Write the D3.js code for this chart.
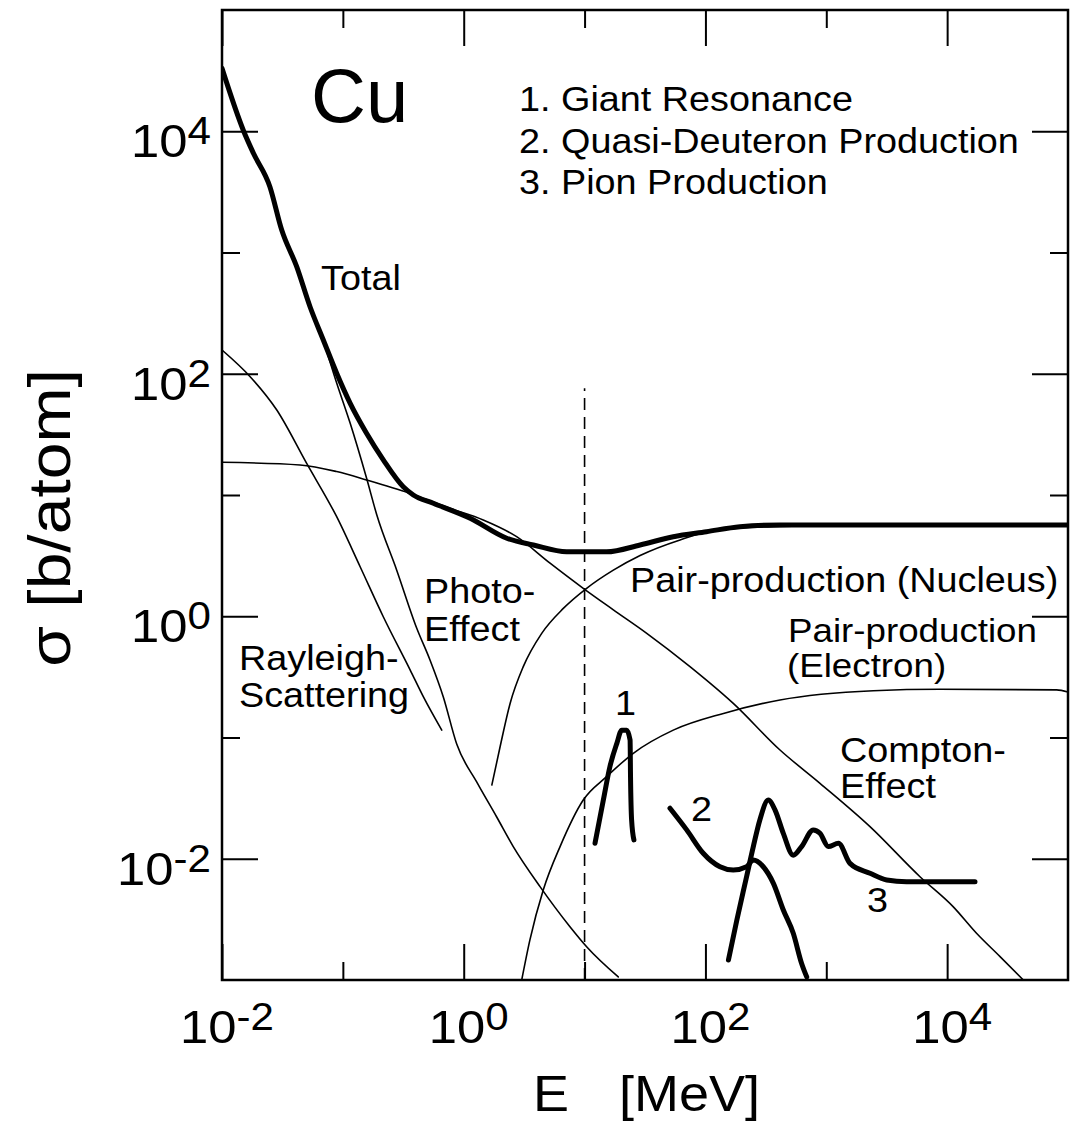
<!DOCTYPE html>
<html>
<head>
<meta charset="utf-8">
<script src="https://cdn.jsdelivr.net/npm/d3@7"></script>
<style>
  body { margin: 0; background: #fff; }
  svg { display: block; font-family: "Liberation Sans", Arial, sans-serif; }
</style>
</head>
<body>
<svg width="1086" height="1124"></svg>
<script>
// values: [E in MeV, sigma in b/atom]
const total = [[0.01, 33000], [0.015, 10200], [0.0182, 6580], [0.0249, 3490], [0.0312, 1530],
  [0.0415, 764], [0.0535, 357], [0.0689, 190], [0.0889, 101], [0.115, 57], [0.157, 32.3],
  [0.216, 19.5], [0.316, 11.7], [0.383, 10], [0.56, 8.55], [1.13, 6.43], [2.27, 4.4],
  [3.77, 3.87], [7.11, 3.4], [15.2, 3.4], [28.8, 3.87], [54.2, 4.53], [102, 4.98],
  [193, 5.48], [414, 5.66], [1e5, 5.66]];
const photo = [[0.0689, 190], [0.0889, 83.9], [0.115, 39], [0.157, 13.8], [0.191, 6.84],
  [0.279, 2.4], [0.408, 0.8], [0.526, 0.436], [0.678, 0.216], [0.875, 0.0883], [1.28, 0.043],
  [1.87, 0.0222], [2.57, 0.0126], [4.28, 0.00589], [7.57, 0.00275], [10.4, 0.00188], [19, 0.00106]];
const rayleigh = [[0.01, 157], [0.0171, 94.6], [0.0284, 50.2], [0.0502, 18.2], [0.0889, 6.62],
  [0.139, 2.56], [0.216, 0.991], [0.36, 0.361], [0.463, 0.217], [0.658, 0.115]];
const compton = [[0.01, 18.6], [0.0442, 17.7], [0.0889, 15.6], [0.157, 13.3], [0.36, 10.3],
  [0.769, 7.76], [1.45, 6.22], [2.74, 4.53], [5.18, 2.74], [9.75, 1.7], [17.3, 1.13],
  [32.7, 0.723], [74.5, 0.384], [170, 0.191], [414, 0.0789], [887, 0.0419], [2300, 0.0184],
  [5960, 0.00711], [11200, 0.00403], [17500, 0.00243], [27400, 0.00156], [42700, 0.001]];
const pairNucleus = [[1.71, 0.0406], [2.0, 0.0839], [2.42, 0.191], [3.11, 0.384], [4.42, 0.723],
  [6.67, 1.16], [10.4, 1.7], [17.3, 2.4], [28.8, 3.17], [61.7, 4.26], [124, 5.14], [365, 5.48],
  [1570, 5.62], [1e5, 5.62]];
const pairElectron = [[3.02, 0.001], [3.53, 0.00214], [4.55, 0.00552], [6.27, 0.0126],
  [9.75, 0.0305], [15.2, 0.0475], [25.3, 0.0741], [54.2, 0.115], [141, 0.158], [414, 0.204],
  [2450, 0.243], [8730, 0.25], [80500, 0.247], [1e5, 0.237]];
const giantResonance = [[12.2, 0.0134], [14.3, 0.0305], [16.2, 0.0574], [18.5, 0.0895],
  [20.3, 0.115], [22.3, 0.115], [23.8, 0.0953], [24.0, 0.0475], [24.5, 0.0209], [25.6, 0.0143]];
const quasiDeuteron = [[50.9, 0.0261], [70, 0.0173], [95.9, 0.0111], [132, 0.00859],
  [170, 0.00807], [219, 0.00859], [249, 0.00977], [301, 0.00859], [365, 0.00627],
  [441, 0.00378], [533, 0.00243], [625, 0.00137], [689, 0.00106]];
const pion = [[155, 0.00146], [182, 0.00313], [219, 0.00711], [249, 0.0126], [282, 0.0209],
  [331, 0.0305], [377, 0.0252], [441, 0.0162], [533, 0.0107], [625, 0.0126], [780, 0.0173],
  [887, 0.0162], [1040, 0.0126], [1260, 0.0134], [1570, 0.00916], [2300, 0.00759],
  [3160, 0.00668], [4620, 0.00647], [17000, 0.00647]];
// vertical dashed marker at 10 MeV
const dashE = 10;
const dashRange = [0.001, 76];

const xMajor = [1e-2, 1, 1e2, 1e4];
const xMinor = [1e-1, 10, 1e3];
const yMajor = [1e-2, 1, 1e2, 1e4];
const yMinor = [1e-1, 10, 1e3];

const legendLines = ["1. Giant Resonance", "2. Quasi-Deuteron Production", "3. Pion Production"];

const svg = d3.select("svg");
const L = 222, R = 1068, T = 10, B = 980;

const x = d3.scaleLog().domain([1e-2, 1e5]).range([L, R]);
const y = d3.scaleLog().domain([1e-3, 1e5]).range([B, T]);

svg.append("clipPath").attr("id", "plot")
  .append("rect").attr("x", L).attr("y", T).attr("width", R - L).attr("height", B - T);

// ticks on all four sides, pointing inward
function ticks(axis, values, size, tr) {
  svg.append("g")
    .attr("transform", tr)
    .call(axis.tickValues(values).tickSize(-size).tickFormat(""))
    .call(g => g.select(".domain").remove())
    .selectAll("line").attr("stroke", "#000").attr("stroke-width", 2);
}
ticks(d3.axisBottom(x), xMajor, 36, `translate(0,${B})`);
ticks(d3.axisBottom(x), xMinor, 18, `translate(0,${B})`);
ticks(d3.axisTop(x), xMajor, 36, `translate(0,${T})`);
ticks(d3.axisTop(x), xMinor, 18, `translate(0,${T})`);
ticks(d3.axisLeft(y), yMajor, 36, `translate(${L},0)`);
ticks(d3.axisLeft(y), yMinor, 18, `translate(${L},0)`);
ticks(d3.axisRight(y), yMajor, 36, `translate(${R},0)`);
ticks(d3.axisRight(y), yMinor, 18, `translate(${R},0)`);

svg.append("rect")
  .attr("x", L).attr("y", T).attr("width", R - L).attr("height", B - T)
  .attr("fill", "none").attr("stroke", "#000").attr("stroke-width", 2.5);

// tick labels as 10 with a raised exponent
function powLabel(sel) {
  sel.append("tspan").text("10");
  sel.append("tspan").attr("font-size", 39).attr("dy", -13)
    .text(d => Math.round(Math.log10(d)));
}
svg.append("g").selectAll("text").data(xMajor).join("text")
  .attr("transform", d => `translate(${x(d) + 5},1043) scale(1.08,1)`)
  .attr("text-anchor", "middle").attr("font-size", 47)
  .call(powLabel);
svg.append("g").selectAll("text").data(yMajor).join("text")
  .attr("transform", d => `translate(211,${y(d) + 26}) scale(1.08,1)`)
  .attr("text-anchor", "end").attr("font-size", 47)
  .call(powLabel);

// curves
const line = d3.line()
  .x(d => x(d[0])).y(d => y(d[1]))
  .curve(d3.curveMonotoneX);

const plot = svg.append("g").attr("clip-path", "url(#plot)")
  .attr("fill", "none").attr("stroke", "#000")
  .attr("stroke-linecap", "round").attr("stroke-linejoin", "round");

[rayleigh, photo, compton, pairNucleus, pairElectron].forEach(s => {
  plot.append("path").attr("d", line(s)).attr("stroke-width", 1.6);
});

plot.append("line")
  .attr("x1", x(dashE)).attr("x2", x(dashE))
  .attr("y1", y(dashRange[0])).attr("y2", y(dashRange[1]))
  .attr("stroke-width", 1.6).attr("stroke-dasharray", "12,7")
  .attr("stroke-linecap", "butt");

[total, giantResonance, quasiDeuteron, pion].forEach(s => {
  plot.append("path").attr("d", line(s)).attr("stroke-width", 5);
});

// annotations
function note(t, px, py, size) {
  svg.append("text")
    .attr("transform", `translate(${px},${py}) scale(1.08,1)`)
    .attr("font-size", size || 35)
    .text(t);
}
note("Total", 321, 290);
note("Photo-", 424, 603);
note("Effect", 424, 641);
note("Rayleigh-", 239, 670);
note("Scattering", 239, 707);
note("Pair-production (Nucleus)", 630, 592);
note("Pair-production", 788, 642, 34);
note("(Electron)", 787, 677, 34);
note("Compton-", 840, 762);
note("Effect", 840, 798);
note("1", 615, 715);
note("2", 691, 821);
note("3", 867, 912);

legendLines.forEach((t, i) => note(t, 519, 111 + i * 41.5));

svg.append("text").attr("x", 311).attr("y", 122)
  .attr("font-size", 76).text("Cu");

// axis titles
svg.append("text")
  .attr("transform", "translate(70,518) rotate(-90) scale(1.1,1)")
  .attr("text-anchor", "middle").attr("font-size", 60)
  .text("σ [b/atom]");
svg.append("text")
  .attr("transform", "translate(533,1111) scale(1.08,1)")
  .attr("font-size", 50).text("E");
svg.append("text")
  .attr("transform", "translate(619,1111) scale(1.08,1)")
  .attr("font-size", 50).text("[MeV]");
</script>
</body>
</html>
